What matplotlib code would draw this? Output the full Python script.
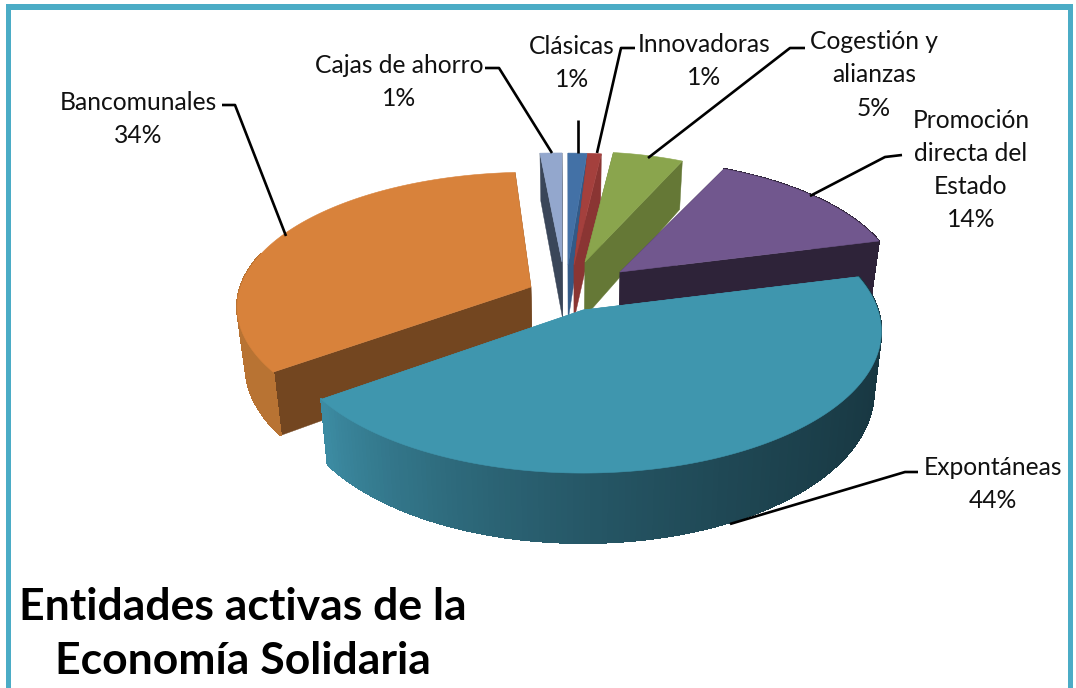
import numpy as np
import matplotlib
matplotlib.use("Agg")
import matplotlib.pyplot as plt
from matplotlib.patches import Polygon, Rectangle
from matplotlib.collections import PolyCollection
from matplotlib.colors import to_rgb

# --- data ---
categories = ["Clásicas", "Innovadoras", "Cogestión y\nalianzas", "Promoción\ndirecta del\nEstado",
              "Expontáneas", "Bancomunales", "Cajas de ahorro"]
values = [1, 1, 5, 14, 44, 34, 1]
title_text = "Entidades activas de la\nEconomía Solidaria"

# --- styles ---
top_colors = ["#4371a6", "#a4403d", "#8aa54d", "#71578e", "#3f96ae", "#d8823b", "#93a7cd"]
cut_colors = ["#335a87", "#8a3533", "#657836", "#2e2339", "#3f96ae", "#734620", "#3a4659"]
wall_start = ["#335a87", "#8a3533", "#657836", "#2e2339", "#17353f", "#b87333", "#3a4659"]
wall_end = ["#335a87", "#8a3533", "#657836", "#2e2339", "#3c8ba2", "#b87333", "#3a4659"]
tips = [(568, 265), (574, 265), (585, 262), (620, 272), (583, 310), (531, 287), (562, 262)]
scales = [(1.18, .975), (.85, .975), (.88, .96), (.94, .98), (1.0, 1.05), (.985, 1.0), (1.37, .95)]
depths = [1, 1, 1, 1, 1.08, 1.05, 1]
label_pos = [(572, 63), (704, 61), (874, 75), (971, 170), (993, 484), (138, 119), (399, 82)]
leaders = [[(578, 120), (578, 153)],
           [(635, 48), (621, 48), (597, 153)],
           [(805, 48), (790, 48), (648, 158)],
           [(902, 155), (885, 157), (810, 196)],
           [(918, 472), (905, 472), (730, 524)],
           [(222, 105), (235, 105), (286, 236)],
           [(485, 68), (499, 68), (552, 153)]]
RX, RY, K, DEPTH, SHRINK, CX0 = 295.0, 132.0, 0.15, 55.0, 0.975, 575.0
draw_order = [6, 0, 1, 2, 3, 5, 4]

plt.rcParams["font.family"] = ["Lato", "DejaVu Sans"]
fig = plt.figure(figsize=(10.76, 6.88), dpi=100, facecolor="white")
ax = fig.add_axes([0, 0, 1, 1])
ax.set_xlim(0, 1076)
ax.set_ylim(688, 0)
ax.axis("off")

frame = "#4bacc6"
ax.add_patch(Rectangle((6, 4), 5, 684, fc=frame, ec="none"))
ax.add_patch(Rectangle((6, 4), 1067, 6, fc=frame, ec="none"))
ax.add_patch(Rectangle((1068, 4), 5, 684, fc=frame, ec="none"))


def project(theta, tip, scale, dscale):
    u, v = np.sin(theta), np.cos(theta)
    w = 1 + K * v
    return tip[0] + scale[0] * RX * u / w, tip[1] - scale[1] * RY * v / w, dscale * DEPTH / w


def lower(x, y, d):
    return CX0 + (x - CX0) * SHRINK, y + d


edges = np.cumsum([0] + values) / sum(values) * 2 * np.pi

for z, i in enumerate(draw_order):
    a0, a1 = edges[i], edges[i + 1]
    tip, sc = tips[i], scales[i]
    th = np.linspace(a0, a1, max(8, int((a1 - a0) * 60)))
    x, y, d = project(th, tip, sc, depths[i])
    bx, by = lower(x, y, d)
    tbx, tby = lower(tip[0], tip[1], DEPTH * depths[i])
    base = 2 + z * 3
    # flat cut faces
    for j in (0, -1):
        ax.add_patch(Polygon([tip, (x[j], y[j]), (bx[j], by[j]), (tbx, tby)],
                             fc=cut_colors[i], ec=cut_colors[i], lw=.3, zorder=base))
    # curved outer wall, shaded along the arc
    c0, c1 = np.array(to_rgb(wall_start[i])), np.array(to_rgb(wall_end[i]))
    quads, cols = [], []
    for n in range(len(th) - 1):
        if np.cos(th[n]) > 0.25 and i not in (3,):
            continue
        quads.append([(x[n], y[n]), (x[n + 1], y[n + 1]), (bx[n + 1], by[n + 1]), (bx[n], by[n])])
        f = (n / max(1, len(th) - 2)) ** 2.2
        cols.append(c0 + (c1 - c0) * f)
    if quads:
        ax.add_collection(PolyCollection(quads, facecolors=cols, edgecolors=cols, linewidths=.8,
                                         antialiaseds=False, zorder=base + 1))
    # top face
    ax.add_patch(Polygon(np.column_stack([np.r_[tip[0], x], np.r_[tip[1], y]]),
                         fc=top_colors[i], ec=top_colors[i], lw=.4, zorder=base + 2))

# leaders and labels
for i, cat in enumerate(categories):
    pts = np.array(leaders[i])
    ax.plot(pts[:, 0], pts[:, 1], color="black", lw=1.9, zorder=40, solid_capstyle="butt")
    ax.text(label_pos[i][0], label_pos[i][1], f"{cat}\n{values[i]}%", ha="center", va="center",
            fontsize=17.7, linespacing=1.53, color="#111111", zorder=41)

ax.text(243, 634, title_text, ha="center", va="center", fontsize=32, fontweight="bold",
        linespacing=1.42, color="black", zorder=41)

fig.savefig("out.png", dpi=100)
